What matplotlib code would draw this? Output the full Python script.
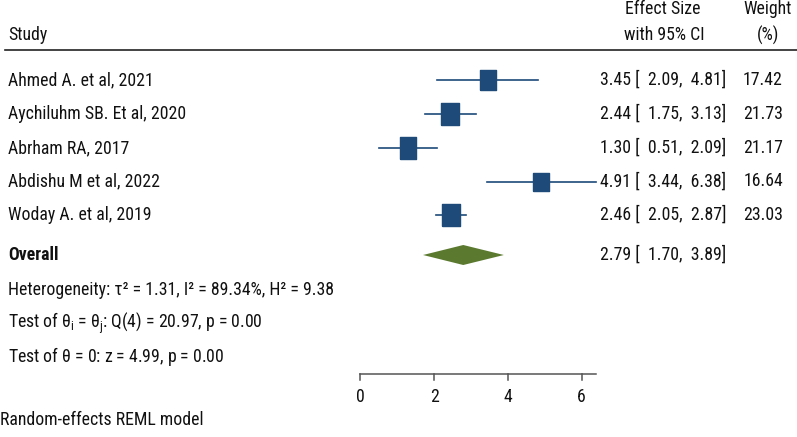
import numpy as np
import matplotlib.pyplot as plt
from matplotlib import transforms

# forest plot data
studies = ["Ahmed A. et al, 2021", "Aychiluhm SB. Et al, 2020", "Abrham RA, 2017",
           "Abdishu M et al, 2022", "Woday A. et al, 2019"]
effect = [3.45, 2.44, 1.30, 4.91, 2.46]
ci_lo = [2.09, 1.75, 0.51, 3.44, 2.05]
ci_hi = [4.81, 3.13, 2.09, 6.38, 2.87]
weight = [17.42, 21.73, 21.17, 16.64, 23.03]
overall = (2.79, 1.70, 3.89)
ticks = [0, 2, 4, 6]

het_text = "Heterogeneity: τ² = 1.31, I² = 89.34%, H² = 9.38"
q_text = r"Test of $\theta_\mathrm{i}$ = $\theta_\mathrm{j}$: Q(4) = 20.97, p = 0.00"
z_text = r"Test of $\theta$ = 0: z = 4.99, p = 0.00"
model_text = "Random-effects REML model"

plt.rcParams['font.family'] = ['Roboto Condensed', 'DejaVu Sans']
plt.rcParams['mathtext.fontset'] = 'custom'
plt.rcParams['mathtext.rm'] = 'Roboto Condensed'
plt.rcParams['mathtext.it'] = 'Roboto Condensed'

FS = 12.8
W, H = 797, 437
fig = plt.figure(figsize=(W / 100, H / 100), dpi=100)
ax = fig.add_axes([0, 0, 1, 1])
# x in effect units (0 at px 360, ~36.9 px per unit), y in pixel rows
x0, ppu = 360.3, 36.9
ax.set_xlim(-x0 / ppu, (W - x0) / ppu)
ax.set_ylim(H, 0)
ax.axis("off")
tr = transforms.blended_transform_factory(ax.transAxes, ax.transData)

def px(x):
    return x / W

rows = [80, 114, 148, 181.5, 215]
navy = "#1d4a79"
green = "#5b7a2f"
txt = "#111111"

# header
ax.text(px(8), 35, "Study", transform=tr, fontsize=FS, va="center", ha="left", color=txt)
ax.text(px(663), 9, "Effect Size", transform=tr, fontsize=FS, va="center", ha="center", color=txt)
ax.text(px(664), 35, "with 95% CI", transform=tr, fontsize=FS, va="center", ha="center", color=txt)
ax.text(px(768), 9, "Weight", transform=tr, fontsize=FS, va="center", ha="center", color=txt)
ax.text(px(768), 35, "(%)", transform=tr, fontsize=FS, va="center", ha="center", color=txt)
ax.plot([px(5), px(797)], [50, 50], transform=tr, color="#222222", lw=1.2)

box = [(-0.8, -1), (0.8, -1), (0.8, 1), (-0.8, 1), (-0.8, -1)]
for i, y in enumerate(rows):
    ax.plot([ci_lo[i], ci_hi[i]], [y, y], color=navy, lw=1.2, zorder=2)
    side = 4.6 * np.sqrt(weight[i]) * 0.72
    ax.plot(effect[i], y, marker=box, ms=side, color=navy, mec=navy, zorder=3, ls="none")
    ax.text(px(8), y, studies[i], transform=tr, fontsize=FS, va="center", ha="left", color=txt)
    ax.text(px(600), y, f"{effect[i]:.2f} [  {ci_lo[i]:.2f},  {ci_hi[i]:.2f}]",
            transform=tr, fontsize=FS, va="center", ha="left", color=txt)
    ax.text(px(783), y, f"{weight[i]:.2f}", transform=tr, fontsize=FS, va="center", ha="right",
            color=txt)

# overall diamond
oy = 255
ax.fill([overall[1], overall[0], overall[2], overall[0]], [oy, oy - 10, oy, oy + 10],
        color=green, lw=0)
ax.text(px(8), oy, "Overall", transform=tr, fontsize=FS, va="center", ha="left", weight="bold",
        color=txt)
ax.text(px(600), oy, f"{overall[0]:.2f} [  {overall[1]:.2f},  {overall[2]:.2f}]",
        transform=tr, fontsize=FS, va="center", ha="left", color=txt)

ax.text(px(8), 290, het_text, transform=tr, fontsize=FS, va="center", ha="left", color=txt)
ax.text(px(8), 323, q_text, transform=tr, fontsize=FS, va="center", ha="left", color=txt)
ax.text(px(8), 356, z_text, transform=tr, fontsize=FS, va="center", ha="left", color=txt)
ax.text(px(0), 420, model_text, transform=tr, fontsize=FS, va="center", ha="left", color=txt)

# x axis
axis_y = 374
ax.plot([0, max(ci_hi)], [axis_y, axis_y], color="#555555", lw=1.1)
for t in ticks:
    ax.plot([t, t], [axis_y, axis_y + 6], color="#555555", lw=1.1)
    ax.text(t, 397, str(t), fontsize=FS, va="center", ha="center", color=txt)

fig.savefig("out.png", dpi=100)
